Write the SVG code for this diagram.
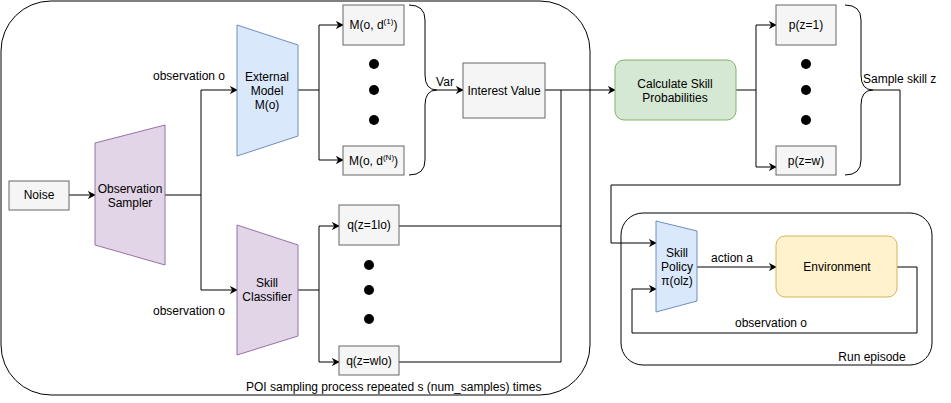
<svg xmlns="http://www.w3.org/2000/svg" width="951" height="403" viewBox="0 0 951 403">
<defs>
<marker id="arr" viewBox="0 0 10 10" refX="9" refY="5" markerWidth="8" markerHeight="8" markerUnits="userSpaceOnUse" orient="auto">
<path d="M0,0 L10,5 L0,10 L3,5 Z" fill="#000"/>
</marker>
<style>
text{font-family:"Liberation Sans",Arial,sans-serif;font-size:12px;fill:#000}
.c{text-anchor:middle}
.gray{fill:#f5f5f5;stroke:#666666;stroke-width:1}
.purple{fill:#e1d5e7;stroke:#9673a6;stroke-width:1}
.blue{fill:#dae8fc;stroke:#6c8ebf;stroke-width:1}
.cont{fill:none;stroke:#000;stroke-width:1}
.line{fill:none;stroke:#000;stroke-width:1}
.arrow{fill:none;stroke:#000;stroke-width:1;marker-end:url(#arr)}
.dot{fill:#000}
.sup{font-size:8px}
</style>
</defs>
<rect width="951" height="403" fill="#fff"/>
<g id="poi-container">
<rect class="cont" x="1" y="1" width="589" height="394" rx="50"/>
<text x="246" y="391">POI sampling process repeated s (num_samples) times</text>
</g>
<g id="run-episode">
<rect class="cont" x="621" y="213" width="311" height="152" rx="22"/>
<text class="c" x="872" y="361">Run episode</text>
</g>
<g id="connectors">
<path class="arrow" d="M69,195 H95"/>
<path class="arrow" d="M165,195 H201 V90 H237"/>
<path class="arrow" d="M201,195 V290 H237"/>
<path class="arrow" d="M298,90 H319 V25 H343"/>
<path class="arrow" d="M319,90 V160 H343"/>
<path class="line" d="M409,5 Q425,5 425,20 V75 Q425,90 437,90 Q425,90 425,105 V160 Q425,175 409,175"/>
<path class="arrow" d="M437,90 H463"/>
<path class="arrow" d="M545,90 H615"/>
<path class="arrow" d="M298,290 H319 V226 H339"/>
<path class="arrow" d="M319,290 V362 H339"/>
<path class="line" d="M399,226 H561"/>
<path class="line" d="M399,362 H561 V90"/>
<path class="arrow" d="M736,90 H756 V25 H776"/>
<path class="arrow" d="M756,90 V167 H776"/>
<path class="line" d="M845,5 Q861,5 861,20 V75 Q861,90 873,90 Q861,90 861,105 V160 Q861,175 845,175"/>
<path class="arrow" d="M873,90 H900 V185 H611 V243 H656"/>
<path class="arrow" d="M697,267 H776"/>
<path class="arrow" d="M897,267 H917 V333 H632 V289 H656"/>
<text class="c" x="189" y="80">observation o</text>
<text class="c" x="189" y="315">observation o</text>
<text class="c" x="445" y="86">Var</text>
<text x="863" y="83">Sample skill z</text>
<text class="c" x="732" y="262">action a</text>
<text class="c" x="771" y="327">observation o</text>
</g>
<g id="noise">
<rect class="gray" x="9" y="181" width="60" height="29"/>
<text class="c" x="39" y="199">Noise</text>
</g>
<g id="observation-sampler">
<polygon class="purple" points="95,143 165,125 165,265 95,245"/>
<text class="c" x="130" y="193">Observation</text>
<text class="c" x="130" y="207">Sampler</text>
</g>
<g id="external-model">
<polygon class="blue" points="237,25 298,45 298,136 237,156"/>
<text class="c" x="267" y="81">External</text>
<text class="c" x="267" y="95">Model</text>
<text class="c" x="267" y="109">M(o)</text>
</g>
<g id="skill-classifier">
<polygon class="purple" points="237,225 298,245 298,336 237,355"/>
<text class="c" x="267" y="287">Skill</text>
<text class="c" x="267" y="301">Classifier</text>
</g>
<g id="m1">
<rect class="gray" x="343" y="5" width="61" height="40"/>
<text class="c" x="373.5" y="29">M(o, d<tspan class="sup" dy="-5">(1)</tspan><tspan dy="5">)</tspan></text>
</g>
<g id="m-dots">
<circle class="dot" cx="374" cy="64" r="5"/>
<circle class="dot" cx="374" cy="90" r="5"/>
<circle class="dot" cx="374" cy="120" r="5"/>
</g>
<g id="mN">
<rect class="gray" x="343" y="146" width="61" height="29"/>
<text class="c" x="373.5" y="165">M(o, d<tspan class="sup" dy="-5">(N)</tspan><tspan dy="5">)</tspan></text>
</g>
<g id="interest-value">
<rect class="gray" x="463" y="63" width="82" height="55"/>
<text class="c" x="504" y="95">Interest Value</text>
</g>
<g id="q1">
<rect class="gray" x="339" y="205" width="60" height="40"/>
<text class="c" x="369" y="229">q(z=1lo)</text>
</g>
<g id="q-dots">
<circle class="dot" cx="369" cy="265" r="5"/>
<circle class="dot" cx="369" cy="290" r="5"/>
<circle class="dot" cx="369" cy="319" r="5"/>
</g>
<g id="qw">
<rect class="gray" x="339" y="346" width="60" height="29"/>
<text class="c" x="369" y="365">q(z=wlo)</text>
</g>
<g id="calculate-skill-probabilities">
<rect x="615" y="60" width="121" height="60" rx="9" fill="#d5e8d4" stroke="#82b366"/>
<text class="c" x="675" y="88">Calculate Skill</text>
<text class="c" x="675" y="102">Probabilities</text>
</g>
<g id="p1">
<rect class="gray" x="776" y="5" width="60" height="40"/>
<text class="c" x="806" y="29">p(z=1)</text>
</g>
<g id="p-dots">
<circle class="dot" cx="806" cy="64" r="5"/>
<circle class="dot" cx="806" cy="90" r="5"/>
<circle class="dot" cx="806" cy="120" r="5"/>
</g>
<g id="pw">
<rect class="gray" x="776" y="146" width="60" height="29"/>
<text class="c" x="806" y="165">p(z=w)</text>
</g>
<g id="skill-policy">
<polygon class="blue" points="656,221 697,231 697,301 656,312"/>
<text class="c" x="677" y="257">Skill</text>
<text class="c" x="677" y="271">Policy</text>
<text class="c" x="677" y="285">π(olz)</text>
</g>
<g id="environment">
<rect x="776" y="236" width="121" height="61" rx="9" fill="#fff2cc" stroke="#d6b656"/>
<text class="c" x="837" y="271">Environment</text>
</g>
</svg>
